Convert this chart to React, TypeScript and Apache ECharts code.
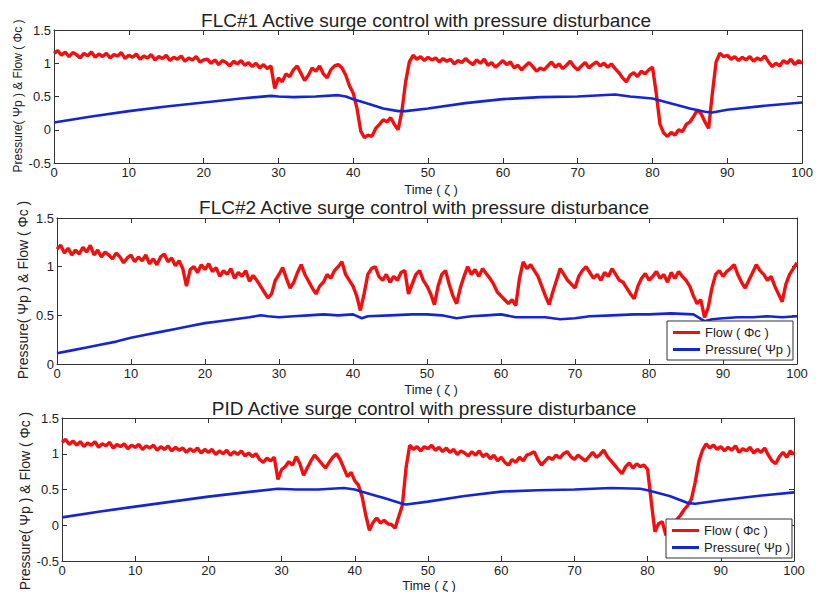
import React, { useEffect, useRef } from "react";
import * as echarts from "echarts";

// Flow samples every 0.5 time units (each row = 10 time units), last value at t = 100
const flow1: number[] = [
  1.15, 1.19, 1.12, 1.17, 1.10, 1.16, 1.13, 1.08, 1.15, 1.11, 1.17, 1.09, 1.14, 1.10, 1.15, 1.08, 1.13, 1.11, 1.16, 1.07,
  1.12, 1.09, 1.14, 1.06, 1.11, 1.08, 1.13, 1.05, 1.10, 1.07, 1.12, 1.04, 1.09, 1.06, 1.11, 1.03, 1.08, 1.05, 1.10, 1.02,
  1.05, 1.06, 1.00, 1.05, 0.98, 1.04, 1.01, 0.96, 1.03, 0.99, 1.04, 0.97, 1.01, 0.95, 1.00, 0.93, 0.98, 0.92, 0.96, 0.62,
  0.78, 0.72, 0.84, 0.80, 0.90, 0.96, 0.85, 0.74, 0.82, 0.93, 0.88, 0.96, 0.84, 0.78, 0.90, 0.96, 0.98, 0.93, 0.82, 0.66,
  0.55, 0.32, -0.02, -0.12, -0.08, -0.10, 0.02, 0.08, 0.15, 0.12, 0.18, 0.08, 0.00, 0.28, 0.72, 1.02, 1.12, 1.06, 1.10, 1.04,
  1.09, 1.05, 1.08, 1.02, 1.07, 1.03, 1.06, 0.99, 1.04, 1.01, 1.07, 1.02, 0.98, 1.05, 1.00, 1.06, 0.97, 1.01, 0.94, 0.99,
  1.04, 0.98, 1.02, 0.93, 0.97, 0.90, 0.96, 1.01, 0.95, 0.88, 0.93, 0.90, 0.96, 1.02, 0.94, 0.99, 0.92, 0.97, 1.03, 0.95,
  0.90, 0.96, 1.01, 0.93, 0.98, 1.02, 0.96, 1.00, 0.94, 0.99, 0.92, 0.86, 0.78, 0.72, 0.82, 0.86, 0.80, 0.88, 0.84, 0.90,
  0.94, 0.55, 0.08, -0.05, -0.10, -0.04, -0.08, 0.00, -0.03, 0.08, 0.12, 0.20, 0.30, 0.24, 0.12, 0.02, 0.55, 1.02, 1.15, 1.10,
  1.12, 1.06, 1.10, 1.04, 1.09, 1.05, 1.10, 1.03, 1.08, 1.05, 1.11, 1.02, 0.95, 1.00, 0.96, 1.04, 1.00, 1.06, 0.98, 1.04,
  1.00,
];

const flow2: number[] = [
  1.18, 1.22, 1.14, 1.19, 1.12, 1.17, 1.13, 1.20, 1.15, 1.22, 1.12, 1.17, 1.10, 1.15, 1.12, 1.08, 1.14, 1.10, 1.04, 1.09,
  1.12, 1.05, 1.10, 1.06, 1.12, 1.03, 1.08, 1.02, 1.10, 1.13, 1.05, 1.09, 1.01, 1.06, 0.98, 0.80, 0.97, 1.00, 0.94, 1.02,
  0.97, 1.03, 0.95, 0.99, 0.90, 0.96, 0.92, 0.98, 0.88, 0.94, 0.90, 0.96, 0.85, 0.91, 0.86, 0.80, 0.74, 0.68, 0.72, 0.86,
  0.92, 0.99, 0.88, 0.78, 0.84, 0.94, 1.02, 0.92, 0.85, 0.78, 0.72, 0.80, 0.84, 0.92, 0.88, 0.96, 1.00, 1.05, 0.92, 0.86,
  0.80, 0.70, 0.55, 0.72, 0.92, 0.98, 1.00, 0.90, 0.86, 0.92, 0.84, 0.90, 0.86, 0.94, 0.96, 0.72, 0.82, 0.92, 0.96, 0.86,
  0.80, 0.72, 0.61, 0.80, 0.92, 0.96, 0.82, 0.70, 0.62, 0.78, 0.90, 1.00, 0.92, 0.97, 0.90, 0.98, 0.93, 0.88, 0.82, 0.74,
  0.70, 0.66, 0.62, 0.66, 0.60, 0.88, 1.05, 0.98, 1.02, 0.96, 0.90, 0.80, 0.70, 0.61, 0.74, 0.86, 0.98, 0.92, 0.86, 0.82,
  0.78, 0.90, 0.96, 1.00, 0.94, 0.88, 0.92, 0.86, 0.94, 0.90, 0.98, 0.92, 0.86, 0.84, 0.78, 0.72, 0.67, 0.80, 0.88, 0.93,
  0.86, 0.90, 0.95, 0.88, 0.92, 0.84, 0.94, 0.88, 0.95, 0.90, 0.86, 0.80, 0.70, 0.62, 0.66, 0.48, 0.58, 0.78, 0.92, 0.96,
  0.90, 0.95, 0.98, 1.02, 0.92, 0.84, 0.78, 0.86, 0.94, 1.02, 0.96, 0.92, 0.86, 0.90, 0.80, 0.72, 0.64, 0.82, 0.92, 0.98,
  1.04,
];

const flow3: number[] = [
  1.16, 1.20, 1.13, 1.18, 1.12, 1.17, 1.10, 1.15, 1.12, 1.17, 1.09, 1.14, 1.11, 1.16, 1.08, 1.13, 1.10, 1.14, 1.07, 1.12,
  1.09, 1.13, 1.06, 1.11, 1.08, 1.12, 1.05, 1.10, 1.06, 1.11, 1.04, 1.09, 1.05, 1.08, 1.02, 1.07, 1.03, 1.08, 1.01, 1.06,
  1.02, 1.06, 0.99, 1.04, 1.00, 1.05, 0.98, 1.03, 0.99, 1.04, 0.97, 1.01, 0.96, 1.00, 0.92, 0.88, 0.94, 0.90, 0.95, 0.64,
  0.78, 0.82, 0.89, 0.84, 0.96, 0.86, 0.70, 0.80, 0.90, 0.98, 0.92, 0.86, 0.80, 0.88, 0.95, 1.00, 0.92, 0.80, 0.68, 0.74,
  0.62, 0.56, 0.40, 0.14, -0.07, 0.04, 0.10, 0.03, 0.07, 0.02, 0.01, -0.04, 0.12, 0.28, 0.80, 1.12, 1.06, 1.10, 1.04, 1.10,
  1.07, 1.12, 1.05, 1.09, 1.03, 1.08, 1.02, 1.06, 0.99, 1.04, 1.01, 0.97, 1.03, 0.98, 1.04, 0.96, 1.00, 0.93, 0.98, 0.90,
  0.95, 0.88, 0.84, 0.92, 0.88, 0.95, 0.90, 0.98, 1.00, 1.03, 0.92, 0.84, 0.90, 0.95, 0.92, 0.98, 0.94, 1.00, 1.03, 0.96,
  0.92, 0.98, 0.94, 0.90, 0.96, 1.02, 0.95, 0.99, 1.05, 0.96, 0.90, 0.84, 0.78, 0.72, 0.82, 0.87, 0.80, 0.86, 0.82, 0.84,
  0.78, 0.33, -0.09, 0.02, 0.05, -0.14, -0.05, 0.02, 0.08, 0.14, 0.22, 0.28, 0.37, 0.60, 0.89, 1.05, 1.14, 1.08, 1.12, 1.06,
  1.10, 1.04, 1.09, 1.05, 1.11, 1.02, 1.07, 1.04, 1.09, 1.01, 1.06, 1.02, 1.08, 0.98, 0.90, 0.86, 0.96, 1.02, 0.95, 1.04,
  0.99,
];

// Pressure: [time, value]
const pressure1: [number, number][] = [
  [0, 0.11], [5, 0.2], [10, 0.28], [15, 0.35], [20, 0.41], [25, 0.47], [29, 0.51], [30, 0.5], [32, 0.49], [35, 0.5],
  [38, 0.52], [39, 0.5], [40, 0.46], [42, 0.39], [44, 0.32], [46, 0.28], [47, 0.28], [50, 0.32], [55, 0.4], [60, 0.46],
  [65, 0.49], [70, 0.5], [75, 0.53], [77, 0.5], [80, 0.47], [82, 0.41], [85, 0.32], [87, 0.27], [88, 0.26], [90, 0.3],
  [95, 0.36], [100, 0.41],
];
const pressure2: [number, number][] = [
  [0, 0.11], [2, 0.14], [4, 0.17], [6, 0.2], [8, 0.23], [10, 0.27], [12, 0.3], [14, 0.33], [16, 0.36], [18, 0.39],
  [20, 0.42], [22, 0.44], [24, 0.46], [26, 0.48], [27.5, 0.5], [28.5, 0.49], [30, 0.48], [32, 0.49], [34, 0.5], [36, 0.51],
  [38, 0.5], [40, 0.51], [41.2, 0.47], [42, 0.49], [45, 0.5], [48, 0.51], [50, 0.51], [52, 0.5], [54, 0.47], [56, 0.49],
  [58, 0.5], [60, 0.51], [62, 0.48], [64, 0.48], [66, 0.48], [68, 0.46], [70, 0.47], [72, 0.49], [75, 0.5], [78, 0.51],
  [80, 0.51], [83, 0.52], [86, 0.51], [87.5, 0.44], [88.5, 0.46], [90, 0.47], [92, 0.48], [94, 0.48], [96, 0.49],
  [98, 0.48], [100, 0.49],
];
const pressure3: [number, number][] = [
  [0, 0.11], [5, 0.19], [10, 0.26], [15, 0.33], [20, 0.4], [25, 0.46], [29.5, 0.51], [32, 0.5], [35, 0.5], [38.5, 0.52],
  [40, 0.5], [41, 0.47], [43, 0.41], [44, 0.38], [46.5, 0.3], [47, 0.29], [50, 0.33], [55, 0.41], [60, 0.47], [65, 0.49],
  [70, 0.5], [75, 0.52], [79, 0.51], [80, 0.49], [83, 0.41], [85.5, 0.31], [86.5, 0.3], [90, 0.35], [95, 0.41],
  [100, 0.46],
];

const titles = [
  "FLC#1 Active surge control with pressure disturbance",
  "FLC#2 Active surge control with pressure disturbance",
  "PID Active surge control with pressure disturbance",
];
const yRanges: [number, number][] = [[-0.5, 1.5], [0, 1.5], [-0.5, 1.5]];
const flowName = "Flow ( Φc )";
const pressureName = "Pressure( Ψp )";
const xName = "Time ( ζ )";
const yName = "Pressure( Ψp ) & Flow ( Φc )";

const FONT = "'Liberation Sans', Arial, sans-serif";
const AXIS = "#333";
const RED = "#f01010";
const BLUE = "#1526d0";

const grids = [
  { left: 54, top: 30, width: 752, height: 133 },
  { left: 57, top: 218, width: 740, height: 146 },
  { left: 62, top: 418, width: 732, height: 143 },
];

function toPairs(vals: number[]): [number, number][] {
  return vals.map((v, i) => [i * 0.5, v]);
}

export default function App() {
  const ref = useRef<HTMLDivElement>(null);
  useEffect(() => {
    if (!ref.current) return;
    const chart = echarts.init(ref.current, undefined, { renderer: "svg" });
    const flows = [flow1, flow2, flow3];
    const pressures = [pressure1, pressure2, pressure3];

    const xAxes: any[] = [];
    const yAxes: any[] = [];
    for (const pos of ["bottom", "top"]) {
      grids.forEach((_, i) => {
        xAxes.push({
          type: "value",
          gridIndex: i,
          position: pos,
          min: 0,
          max: 100,
          interval: 10,
          axisLine: { show: true, onZero: false, lineStyle: { color: AXIS, width: 1 } },
          axisTick: { show: true, inside: true, length: 5, lineStyle: { color: AXIS } },
          axisLabel: { show: pos === "bottom", color: "#222", fontSize: 13, lineHeight: 13, fontFamily: FONT, margin: 3 },
          splitLine: { show: false },
        });
      });
    }
    for (const pos of ["left", "right"]) {
      grids.forEach((_, i) => {
        yAxes.push({
          type: "value",
          gridIndex: i,
          position: pos,
          min: yRanges[i][0],
          max: yRanges[i][1],
          interval: 0.5,
          axisLine: { show: true, onZero: false, lineStyle: { color: AXIS, width: 1 } },
          axisTick: { show: true, inside: true, length: 5, lineStyle: { color: AXIS } },
          axisLabel: { show: pos === "left", color: "#222", fontSize: 13, fontFamily: FONT, margin: 3 },
          splitLine: { show: false },
        });
      });
    }

    const series: any[] = [];
    grids.forEach((_, i) => {
      series.push({
        type: "line",
        name: flowName,
        xAxisIndex: i,
        yAxisIndex: i,
        data: toPairs(flows[i]),
        symbol: "none",
        showSymbol: false,
        lineStyle: { color: RED, width: 3.4 },
        itemStyle: { color: RED },
        z: 2,
      });
      series.push({
        type: "line",
        name: pressureName,
        xAxisIndex: i,
        yAxisIndex: i,
        data: pressures[i],
        symbol: "none",
        showSymbol: false,
        lineStyle: { color: BLUE, width: 2.6 },
        itemStyle: { color: BLUE },
        z: 3,
      });
    });

    const legendBase = {
      orient: "vertical",
      data: [flowName, pressureName],
      icon: "rect",
      itemWidth: 27,
      itemHeight: 3,
      itemGap: 4,
      padding: [5, 2, 4, 6],
      borderColor: "#333",
      borderWidth: 1,
      backgroundColor: "#fff",
      textStyle: { fontSize: 13, lineHeight: 13, fontFamily: FONT, color: "#222" },
      selectedMode: false,
      z: 10,
    };

    const graphics: any[] = [];
    const titlePos = [[426, 20], [424, 207], [424, 408]];
    const xNamePos = [[431, 189.5], [431, 389], [429, 585.5]];
    const yNamePos = [[17.5, 96], [23, 290], [25, 501]];
    const yNameSize = [12, 14, 14];
    titles.forEach((t, i) => {
      graphics.push({
        type: "text",
        x: titlePos[i][0],
        y: titlePos[i][1],
        style: { text: t, fontSize: 19, fontFamily: FONT, fill: "#222", align: "center", verticalAlign: "middle" },
      });
      graphics.push({
        type: "text",
        x: xNamePos[i][0],
        y: xNamePos[i][1],
        style: { text: xName, fontSize: 13, lineHeight: 13, fontFamily: FONT, fill: "#222", align: "center", verticalAlign: "middle" },
      });
      graphics.push({
        type: "text",
        x: yNamePos[i][0],
        y: yNamePos[i][1],
        rotation: Math.PI / 2,
        style: { text: yName, fontSize: yNameSize[i], fontFamily: FONT, fill: "#222", align: "center", verticalAlign: "middle" },
      });
    });

    chart.setOption({
      animation: false,
      backgroundColor: "#fff",
      grid: grids.map((g) => ({ ...g, containLabel: false })),
      xAxis: xAxes,
      yAxis: yAxes,
      legend: [
        { ...legendBase, left: 667, top: 321 },
        { ...legendBase, left: 666, top: 519 },
      ],
      series,
      graphic: graphics,
    });
    return () => chart.dispose();
  }, []);
  return <div ref={ref} style={{ position: "absolute", left: 0, top: 0, width: 816, height: 592 }} />;
}
